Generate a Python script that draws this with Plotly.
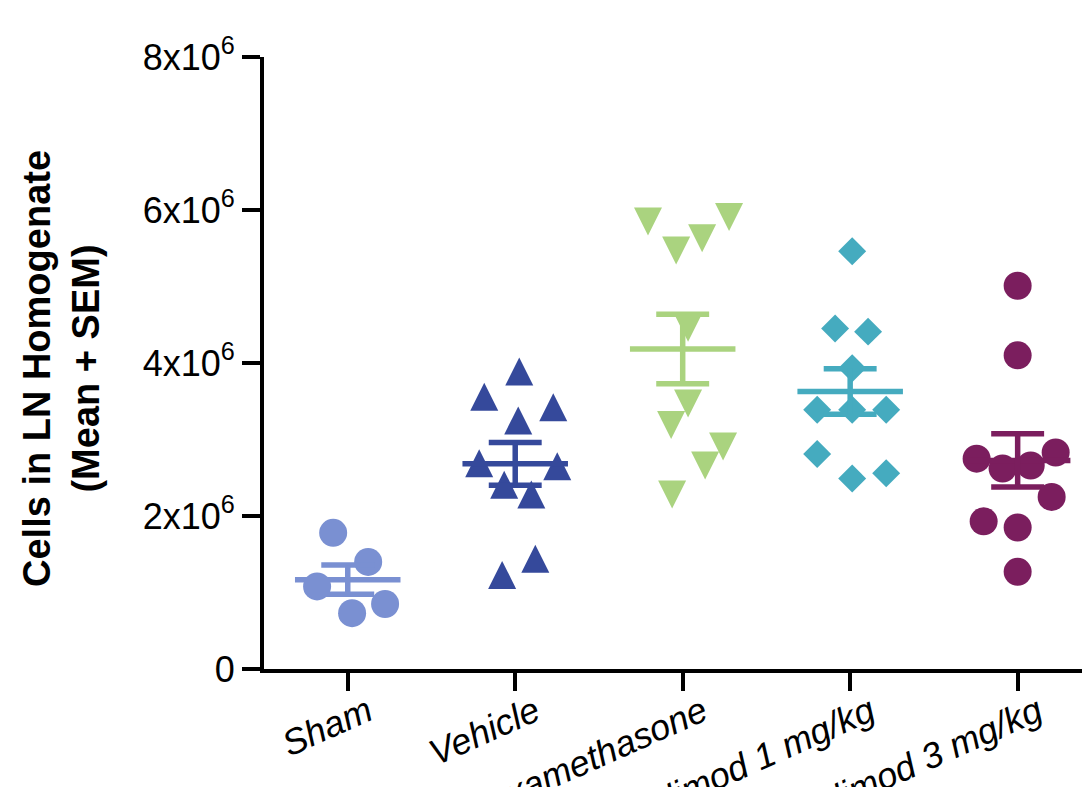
import numpy as np
import plotly.graph_objects as go

# ---------------- data (cells, in units of 1e6) ----------------
categories = ["Sham", "Vehicle", "Dexamethasone", "Fingolimod 1 mg/kg", "Fingolimod 3 mg/kg"]

sham = [1.78, 1.40, 1.08, 0.73, 0.85]
vehicle = [3.89, 3.56, 3.42, 3.25, 2.69, 2.65, 2.41, 2.28, 1.44, 1.23]
dexamethasone = [5.85, 5.91, 5.47, 5.63, 4.46, 3.47, 3.19, 2.91, 2.66, 2.28]
cmpd_1mg = [5.46, 4.45, 4.41, 3.93, 3.39, 3.39, 3.39, 2.81, 2.49, 2.56]
cmpd_3mg = [5.01, 4.10, 2.75, 2.83, 2.62, 2.66, 2.25, 1.93, 1.85, 1.27]

# horizontal scatter offsets of each point (category units)
sham_dx = [-0.087, 0.122, -0.183, 0.026, 0.223]
vehicle_dx = [0.024, -0.185, 0.227, 0.018, -0.215, 0.251, -0.066, 0.096, 0.12, -0.078]
dexamethasone_dx = [-0.207, 0.277, -0.039, 0.116, 0.032, 0.032, -0.069, 0.241, 0.134, -0.063]
cmpd_1mg_dx = [0.012, -0.09, 0.107, 0.012, -0.197, 0.012, 0.215, -0.197, 0.012, 0.215]
cmpd_3mg_dx = [0.0, 0.0, -0.245, 0.227, -0.09, 0.078, 0.203, -0.203, 0.0, 0.0]

y_tickvals = [0, 2e6, 4e6, 6e6, 8e6]
y_ticktext = ["0", "2x10<sup>6</sup>", "4x10<sup>6</sup>", "6x10<sup>6</sup>", "8x10<sup>6</sup>"]

# ---------------- styles ----------------
colors = ["#7A90D2", "#35499B", "#AAD37F", "#45ABBF", "#7B1E5E"]
symbols = ["circle", "arrow-up", "arrow-down", "diamond", "circle"]
sizes = [28, 28, 28, 21.5, 28]
groups = [sham, vehicle, dexamethasone, cmpd_1mg, cmpd_3mg]
offsets = [sham_dx, vehicle_dx, dexamethasone_dx, cmpd_1mg_dx, cmpd_3mg_dx]

W, H = 1090, 787
M_L, M_R, M_T, M_B = 256, 8, 49, 126
plot_h = H - M_T - M_B
Y_MAX = 8e6
# arrow markers have their tip at the data point; shift via overlay axes so the
# triangle's centre sits on the value
d = (28 / 2) * Y_MAX / plot_h
yaxis_for = ["y", "y2", "y3", "y", "y"]

fig = go.Figure()

for i, (vals, dx) in enumerate(zip(groups, offsets)):
    v = np.array(vals) * 1e6
    fig.add_trace(go.Scatter(
        x=[i + o for o in dx], y=v, mode="markers",
        marker=dict(symbol=symbols[i], size=sizes[i], color=colors[i], line=dict(width=0)),
        yaxis=yaxis_for[i], hoverinfo="skip", showlegend=False,
    ))

HALF_MEAN = 0.315
HALF_CAP = 0.158
for i, vals in enumerate(groups):
    v = np.array(vals) * 1e6
    m = v.mean()
    sem = v.std(ddof=1) / np.sqrt(len(v))
    xs = [i - HALF_MEAN, i + HALF_MEAN, None,
          i - HALF_CAP, i + HALF_CAP, None,
          i - HALF_CAP, i + HALF_CAP, None,
          i, i]
    ys = [m, m, None,
          m + sem, m + sem, None,
          m - sem, m - sem, None,
          m - sem, m + sem]
    fig.add_trace(go.Scatter(
        x=xs, y=ys, mode="lines", line=dict(color=colors[i], width=5.5),
        yaxis="y4", hoverinfo="skip", showlegend=False,
    ))

axis_common = dict(
    showline=True, linewidth=4, linecolor="black", mirror=False,
    ticks="outside", ticklen=18, tickwidth=4, tickcolor="black",
    showgrid=False, zeroline=False, automargin=False,
)

fig.update_layout(
    template="none",
    width=W, height=H,
    margin=dict(l=M_L, r=M_R, t=M_T, b=M_B, pad=0),
    paper_bgcolor="white", plot_bgcolor="white",
    showlegend=False,
    xaxis=dict(
        range=[-0.5, 4.432],
        tickmode="array", tickvals=list(range(len(categories))),
        ticktext=["<i>" + c + "</i>" for c in categories],
        tickangle=-24,
        ticklabelstandoff=-14, ticklabelshift=20,
        tickfont=dict(family="Liberation Sans", size=36, color="black"),
        **axis_common,
    ),
    yaxis=dict(
        range=[0, Y_MAX],
        tickmode="array", tickvals=y_tickvals, ticktext=y_ticktext,
        tickfont=dict(family="Liberation Sans", size=36, color="black"),
        **axis_common,
    ),
    yaxis2=dict(range=[-d, Y_MAX - d], overlaying="y", visible=False),
    yaxis3=dict(range=[d, Y_MAX + d], overlaying="y", visible=False),
    yaxis4=dict(range=[0, Y_MAX], overlaying="y", visible=False),
    annotations=[dict(
        text="<b>Cells in LN Homogenate<br>(Mean + SEM)</b>",
        xref="paper", yref="paper", x=0, y=0.5,
        xanchor="center", yanchor="middle", xshift=-203, yshift=-6,
        textangle=-90, showarrow=False,
        font=dict(family="Liberation Sans", size=38, color="black"),
    )],
)

fig.write_html("out.html")
